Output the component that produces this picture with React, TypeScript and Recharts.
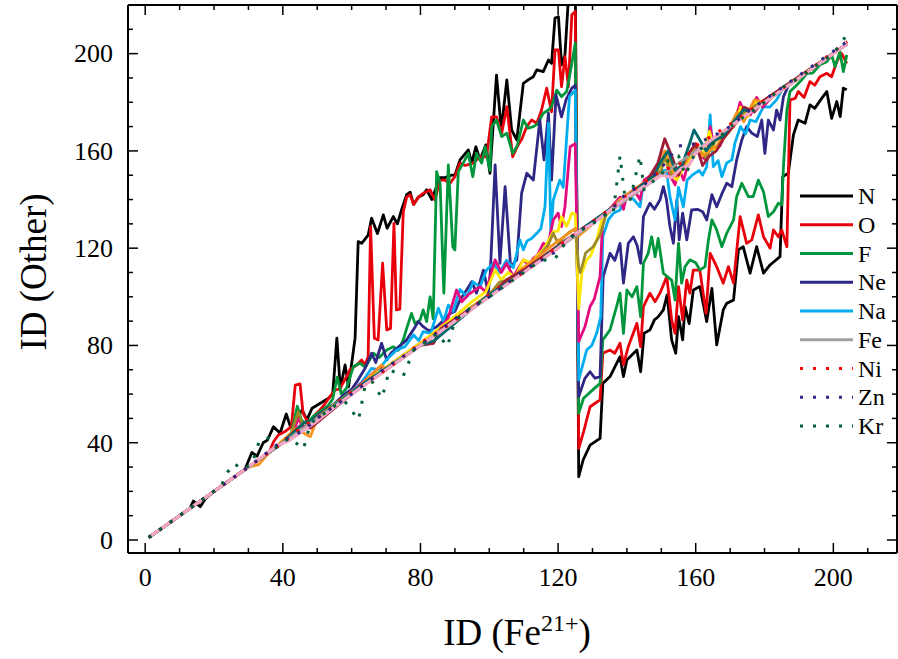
import React from 'react';
import { LineChart, Line, XAxis, YAxis } from 'recharts';

const FONT = '"Liberation Serif", "Times New Roman", Times, serif';

const X_TICKS = [0, 10, 20, 30, 40, 50, 60, 70, 80, 90, 100, 110, 120, 130, 140, 150, 160, 170, 180, 190, 200, 210];
const Y_TICKS = [0, 10, 20, 30, 40, 50, 60, 70, 80, 90, 100, 110, 120, 130, 140, 150, 160, 170, 180, 190, 200, 210];
const X_LABELS = [0, 40, 80, 120, 160, 200];
const Y_LABELS = [0, 40, 80, 120, 160, 200];

// [ID(Fe21+), ID(Other)] vertices
const N_PTS = [[1,1],[5,5],[10,10],[13,13],[14,16],[16,13.7],[17.5,17],[20,20],[25,25],[29,29],[31,36],[32.5,34.5],[34.3,40],[35.5,41],[37.3,46.6],[39.2,43.9],[41,51.8],[42.2,46.6],[44,50],[45.6,53.5],[47,49.4],[48.5,54.2],[50.9,56.2],[53.3,58.3],[54.5,60],[55.7,83],[56.7,62.4],[58.1,72],[59.1,63],[61,83],[61.9,122.7],[62.9,122],[64.8,125.4],[65.8,132.3],[67.5,126],[69.2,133.7],[70.3,128.2],[72.1,133],[73.3,130],[74.5,135.7],[76,142],[77,143],[78,138],[79.4,141],[80.8,142],[81.8,144],[83.3,140],[84.2,143.5],[85.7,149],[87.1,149],[89,150],[90,150],[91.5,156.3],[93.9,160.4],[94.9,155],[96.1,161.7],[97.3,156.3],[99,162.5],[100.2,150.8],[102.1,191.2],[103.5,168.6],[105.1,189.2],[106.5,168.6],[108,164.5],[109.9,187.8],[111.3,189.2],[112.8,190.5],[113.8,193.3],[115.7,192.6],[117.2,197.4],[118.1,196],[119.1,214.6],[120.1,215.2],[121,195.4],[122,199.5],[123.3,230],[125,230],[126,26],[127.3,33],[129.3,39],[132.2,41.8],[133,64.4],[135.1,67.2],[138,75.4],[139,67.2],[140,74],[142.9,78.1],[144,69.2],[145,85],[146.7,86.4],[148,90.5],[149.1,91.8],[150.6,94.6],[151.7,100.8],[153,82.3],[154.2,76.8],[155,91.8],[156.2,82.3],[156.9,96],[158.1,89],[159.3,102.8],[161.2,104.2],[163.2,89.8],[164.7,103.5],[166.1,80.2],[168,94.6],[169,97.3],[171,98.7],[172.4,119.3],[173.8,120.6],[175.8,109.7],[177.7,120.6],[179.7,109.7],[181.6,113.1],[184.5,116.5],[185.3,149.4],[186.9,150.8],[188.4,166.6],[189.8,172.7],[191.8,171.4],[193.2,178.9],[194.6,177.5],[196.6,181.6],[198.1,184.4],[199.5,173.4],[201,180.3],[202,174.1],[202.9,185.8],[203.9,185.1]];

const O_PTS = [[1,1],[10,10],[20,20],[30,30],[36,36],[37.3,40.4],[38.7,43.2],[40.5,44.5],[42.5,46.6],[43.6,63.7],[45,64.2],[45.9,52],[47.5,48],[49,51],[50.5,53],[52,55.5],[53.7,59],[55.2,61.7],[56.5,62],[58.5,67.2],[59.5,70],[61.5,72],[62.9,74],[63.9,72],[64.8,75.4],[65.5,128.9],[66.6,83],[67.7,82.3],[69,113.8],[70.2,86.4],[71.3,87],[72.3,130.2],[73,94.6],[74,94.9],[75,135],[76,141],[77,142],[78,138],[79.4,141],[80.8,142.6],[81.8,143.2],[82.8,144],[84.2,139.8],[85.7,148],[87.1,148],[88.5,146.5],[90,149.4],[91.5,155],[93,154],[95.3,155],[97.3,157.6],[99.2,157.6],[100.7,174],[102.1,174],[103.6,167.3],[105.1,178.2],[106.8,157.6],[108.1,161.7],[109.5,165],[110.9,170],[112.3,172.7],[113.8,171.4],[115.2,176.8],[116.7,185.8],[118.1,176.1],[119.1,201.5],[120.1,201.5],[121,186.4],[122,198.8],[123,186.4],[124,216],[125,217.3],[126,37.7],[127.4,44.5],[129.3,54.8],[132.2,57.6],[133,76.8],[135.1,78.1],[136.5,76.8],[138,80.9],[139,72],[140.4,79.5],[142.9,89.1],[144,79.5],[144.8,96],[146.7,101.5],[148.2,98],[149.6,101.5],[151.6,108.3],[153,90.5],[154,85],[155,104.2],[156.2,90.5],[157.4,106.9],[158.3,101.5],[159.3,111],[161.2,111],[163,93.2],[164.2,117.9],[166.1,112.4],[168,105.6],[169.5,112.4],[171,105.6],[172.9,133],[174.8,122],[176.3,123.4],[178.2,133.7],[179.7,124.7],[181.6,120],[182.6,127.5],[184,124.7],[185,127.5],[186.5,120.6],[187.4,181],[188.9,181.6],[189.8,184.4],[191.5,182],[193.2,188.5],[194.6,187],[196.1,190.5],[198.1,191.9],[199.5,190.5],[201,196.7],[202.4,200.1],[203.9,196]];

const F_PTS = [[1,1],[20,20],[40,40],[42.5,44],[44.2,55],[45.5,49],[47,48],[49,51],[51,53],[53,55],[54.5,58],[55.8,67],[57,60],[58.5,62.4],[60.5,71.3],[62.4,72.7],[64,71],[66.3,76.8],[68,75],[70.2,78.1],[72.1,79.5],[73.5,78],[75,82.3],[76,87],[77.4,93.2],[78.4,89],[79.9,90.5],[80.8,94.6],[81.8,89.8],[82.8,100],[83.7,91],[84.7,151.5],[85.7,146.7],[86.8,101.5],[88.1,154.2],[89.4,120.6],[90,119.3],[91,151.5],[92.4,155],[93.9,159],[95.2,149.4],[96.3,159],[97.8,155],[98.8,161.7],[100.2,152],[100.7,170],[102.1,172.7],[103.6,165.9],[105.1,167.3],[106.8,159],[108.1,162],[109.9,172.7],[111.3,169.3],[112.8,170],[114,171],[115.7,175.5],[117.2,176.8],[118.1,178.2],[119.6,185],[121,182.3],[122.5,184.4],[124,196],[125,204.3],[126,52.1],[127.4,58.3],[129.5,61],[132.2,64.4],[133,82.3],[135.1,86.4],[137,96],[138,101.5],[139,85],[140,102.8],[141.5,100],[142.9,104.2],[144,91.8],[144.8,113.8],[146.2,117.9],[147.2,124.7],[148.2,116.5],[149.1,124],[150.6,109.7],[152,108],[153,106.9],[154,98.7],[155,122],[155.9,105.6],[156.9,112.4],[158.3,115.2],[160,114],[161.2,111],[162.7,112.4],[163.7,123.4],[164.7,131.6],[166.1,127.5],[167.6,120.6],[169,126.1],[171,131.6],[171.9,141.2],[173.4,146.7],[175.3,141.2],[176.7,141.2],[178.2,148],[179.7,143.2],[181.1,133],[182.6,135],[184,138.5],[185,137.8],[185.5,153.5],[186.5,176.8],[187.4,184.4],[189.4,187.1],[190.8,189.2],[192.3,191.9],[194,192],[196.1,195.4],[198.1,196.7],[199.5,199.5],[200.5,194.7],[201.9,200.8],[202.9,192.6],[203.9,199.5]];

const NE_PTS = [[1,1],[30,30],[45,45],[50,51],[55,56],[58,60],[60,62],[61.5,65],[63.9,70.6],[65.8,76.8],[67,73],[68.7,80.9],[70.2,74],[71.5,77],[73.1,78.8],[75,81],[76,82.3],[77.9,86.4],[79.4,89.8],[80.8,87.7],[82.5,86],[84.7,87.7],[86.5,90],[88.6,93.2],[90,94],[91.5,98.7],[93.4,102.8],[94.9,106.2],[96.3,101.5],[98.3,111],[99.7,101.5],[100.3,110],[101.7,154.2],[103.1,113.8],[104.6,145.3],[106.2,112.4],[108,115.2],[109.4,142.6],[110.9,150.8],[112.8,148],[114.7,172.7],[115.9,156.3],[117.2,175.5],[118.1,148],[119.4,183],[121,174],[122.3,181],[124,185.8],[125,187],[126,59],[127.8,66.5],[129.3,69.2],[130.7,66.5],[132.2,67.2],[133.1,108.3],[135.1,117.9],[136.5,115],[138,122],[139,105.6],[140.4,122],[141.9,124.7],[143,121],[144,113.8],[144.8,133],[146.7,138.5],[148,136],[149.6,139.8],[150.6,145.3],[151.5,140],[152.5,128.9],[153.5,122],[154.5,139.8],[155.2,123.4],[156.2,134.4],[157.4,123.4],[158.8,135.7],[160.5,136],[162,135],[163.2,131.6],[164.7,142],[166.1,137],[167.5,142],[169,146.7],[170.5,145.3],[171.9,156.3],[173.4,164.5],[174.8,170],[176.3,167.3],[177.9,165.9],[179.2,172.7],[180.1,159],[181.1,172.7],[182.6,168.6],[183.5,176.8],[184.5,172.7],[185.5,182.3],[187,187],[190,190],[195,195],[200,200],[204,204]];

const NA_PTS = [[1,1],[30,30],[45,45],[50,50],[55,55],[60,61],[63,65],[65.8,70.6],[68,70],[70,74],[73.1,78.1],[75.5,79.5],[78,84.3],[79.5,82],[80.8,85.7],[83,85],[85.2,95.3],[86.7,90],[88.1,96.6],[89.5,94],[91.5,103],[93.5,100],[95.3,106.2],[97.3,104],[99.2,111],[101.2,113.8],[103,110],[105,115],[107,112],[108.9,123.4],[109.9,119.3],[111,123],[112.3,124],[113.8,126.1],[115,128],[116.2,137],[117.2,171.4],[117.9,126],[118.6,139.8],[120.5,148],[121.5,145],[123.3,182.3],[125,185],[126,65.8],[128.3,78.1],[129.8,80],[131.2,85],[132.4,91.8],[133,124.7],[134.6,131.6],[136.1,134.4],[138,135.7],[139,140.5],[140.9,141.2],[142,140],[143.8,137],[144.8,146.7],[146.5,148],[148,148],[150,152],[151.5,152],[152.5,141.2],[154,131.6],[155,145],[156.4,137],[157.5,148],[159,150],[161,152],[162,150],[163.2,153.5],[164.2,174.8],[165.1,153.5],[166.5,156],[167.6,149.4],[169,155],[170.5,156.3],[171.4,163.2],[173,170],[174.5,167],[175.8,172.7],[177.5,172],[179.7,178.2],[181.5,178],[183.5,181],[185,185],[190,190],[200,200],[204,204]];

const MG_PTS = [[1,1],[40,40],[43,44],[44.5,50],[46,46],[48,48],[55,55],[60,61],[65,67],[68,71],[70,71],[75,76],[78,79],[80,81],[83,84],[85,86],[88,91],[90.5,102.8],[92,98],[94,101],[97.3,104.2],[99,102],[101.7,115.2],[103.5,110],[105,113.8],[107,108.3],[109.9,115.2],[111.5,113],[112.8,115.9],[114,117],[115.7,122],[117,121],[118.6,131.6],[120,134.4],[121,128.9],[122,137],[123.5,161.7],[125,163],[126,81.6],[127.8,87.7],[129.3,96],[130.5,99],[132.2,108.3],[133,133],[135,136],[138,141],[139,136],[140,142],[142,144],[143.8,140],[145,148],[148,151],[151,158],[152.5,150],[154,146],[155,153],[156.5,148],[158,156],[160,162],[161.5,158],[163.2,156],[164.2,170],[165.5,160],[167,162],[169,168],[171,170],[172.9,180],[174.5,174],[176,175],[177.7,182],[179.5,178],[182,182],[185,185],[190,190],[200,200],[204,204]];

const AL_PTS = [[1,1],[45,45],[60,61],[80,81],[90,92],[95,98],[99,102],[101.7,111],[103.5,107],[105.5,110],[107.5,108],[109.9,115.2],[112,114],[114,117],[116,120],[118.6,126.8],[120,127],[121,133],[122.5,129],[124,134.4],[125,134],[126,95],[126.9,109.7],[128.3,115.2],[129.5,117],[131.2,123.4],[132.7,131.6],[135,135],[138,140],[140,141],[145,146],[148,150],[151,157],[153,150],[154.5,148],[156,152],[158,156],[160,160],[162,158],[164,168],[165.5,160],[168,165],[172,172],[173,178],[175,174],[177.5,180],[180,180],[190,190],[200,200],[204,204]];

const SI_PTS = [[1,1],[42,42],[44.5,52.8],[46,46],[48,47],[60,60],[80,80],[95,96],[100,101],[103,106],[106,107],[110,112],[114,116],[117,121],[118.6,126.1],[120,122],[122,125],[123.5,126.8],[125,128],[126,112],[126.5,110],[128,118],[130.2,120.6],[132.2,125.4],[134,134],[140,141],[145,146],[150,152],[151,158],[153,150],[155,152],[160,162],[163,157],[165,163],[170,170],[173,175],[180,181],[204,204]];

const OR_PTS = [[1,1],[30,30],[33,31],[36,36],[44,46],[46,44],[48,42.5],[50,50],[60,60],[68.7,72],[70,70],[100,101],[110,112],[120,123],[125,128],[126,125],[140,142],[148,150],[151,160],[154,150],[157,155],[160,163],[162,158],[166,162],[170,170],[172,176],[174,172],[177,181],[180,180],[204,204]];

const MR_PTS = [[1,1],[40,40],[45,47],[48,46],[60,60],[70,70],[80,80],[83.8,80.9],[86,87],[100,100],[105,107],[110,111],[120,121],[125,126],[140,141],[146,148],[149,155],[151,165],[153,158],[155,150],[157,157],[160,163],[162,154],[164,158],[166,160],[168,165],[172,172],[174,178],[177,176],[180,181],[204,204]];

const TL_PTS = [[1,1],[40,40],[46,48],[50,50],[62,63],[80,80],[84,82],[100,101],[110,110],[125,126],[140,141],[148,150],[150,156],[152,160],[154,152],[156,154],[158,162],[159.5,168.6],[161,165],[163,160],[165,164],[168,166],[171,172],[174,177],[176,176],[204,204]];

const FE_PTS = [[1,1],[50,50],[100,100],[150,150],[204,204]];

const PK_PTS = [[1,1],[20,20],[30,30],[38,38.5],[42,41],[46,45],[50,49],[60,60],[70,70],[80,80],[90,90],[100,100],[110,110],[120,120],[125,126],[130,130],[140,141],[150,150],[153,149],[156,153],[158,154],[160,159],[164,164],[170,170],[180,180],[190,190],[200,200],[204,204]];

const NI_PTS = [[1,1],[30,30],[40,40],[46,47],[50,50],[60,61],[70,70],[80,81],[90,90],[100,101],[110,110],[120,121],[125,126],[135,136],[140,142],[150,152],[155,154],[160,162],[170,171],[180,181],[190,190],[204,205]];

const ZN_PTS = [[1,1],[30,30],[40,41],[46,45],[50,50],[60,60],[70,71],[80,80],[90,91],[100,100],[110,111],[120,119],[125,126],[135,135],[140,143],[145,146],[150,153],[155,162],[160,163],[165,166],[170,170],[175,176],[180,181],[190,191],[204,205]];

const KR_PTS = [[1,1],[20,20],[22,22],[23.9,27.8],[25.9,31.5],[28,29],[31,31],[33.2,41],[35.9,42],[38,38],[42,42],[46,37.4],[48,48],[52,52],[55,55],[58,57],[62,49.4],[64,64],[66,65],[68.8,58.3],[71,70],[75,67.4],[78,78],[82,82],[85,85],[87.8,79.5],[90,90],[95,96],[100,100],[110,110],[115,115],[119,115.4],[122,122],[125,126],[130,130],[134,134],[136,134],[138,158],[139.5,140],[141,140],[143.8,158],[145,144],[148,148],[150,150],[152,156],[155,158],[157,150],[160,160],[165,163],[170,170],[175,175],[180,180],[185,186],[190,190],[195,195],[200,200],[203.7,207.3]];

type S = { name: string; pts: number[][]; color: string; width: number; dash?: string; legend: boolean };

const SERIES: S[] = [
  { name: 'N', pts: N_PTS, color: '#000000', width: 2.8, legend: true },
  { name: 'O', pts: O_PTS, color: '#E8000B', width: 2.8, legend: true },
  { name: 'F', pts: F_PTS, color: '#00963C', width: 2.8, legend: true },
  { name: 'Ne', pts: NE_PTS, color: '#2E2785', width: 2.8, legend: true },
  { name: 'Na', pts: NA_PTS, color: '#00AEEF', width: 2.8, legend: true },
  { name: 'Mg', pts: MG_PTS, color: '#E5097F', width: 2.8, legend: false },
  { name: 'Al', pts: AL_PTS, color: '#FFE800', width: 2.8, legend: false },
  { name: 'Si', pts: SI_PTS, color: '#9C8A2A', width: 2.8, legend: false },
  { name: 'P', pts: OR_PTS, color: '#F7941D', width: 2.8, legend: false },
  { name: 'S', pts: MR_PTS, color: '#9E1C34', width: 2.8, legend: false },
  { name: 'Cl', pts: TL_PTS, color: '#00676B', width: 2.8, legend: false },
  { name: 'Fe', pts: FE_PTS, color: '#A0A0A0', width: 2.8, legend: true },
  { name: 'Ar', pts: PK_PTS, color: '#F4A6C6', width: 3.2, legend: false },
  { name: 'Ni', pts: NI_PTS, color: '#FF0000', width: 3, dash: '3 10', legend: true },
  { name: 'Zn', pts: ZN_PTS, color: '#2E2785', width: 3, dash: '3 10', legend: true },
  { name: 'Kr', pts: KR_PTS, color: '#00613A', width: 3, dash: '3 10', legend: true },
];

const toData = (pts: number[][]) => pts.map(([x, y]) => ({ x, y }));

const BottomTick = (p: any) => {
  const v = p.payload.value;
  const major = X_LABELS.includes(v);
  return (
    <g>
      <line x1={p.x} x2={p.x} y1={553} y2={553 - (major ? 10 : 5)} stroke="#000" strokeWidth={1.5} />
      {major && (
        <text x={p.x} y={553 + 33} textAnchor="middle" fontFamily={FONT} fontSize={26} fill="#000">{v}</text>
      )}
    </g>
  );
};

const TopTick = (p: any) => {
  const v = p.payload.value;
  const major = X_LABELS.includes(v);
  return <line x1={p.x} x2={p.x} y1={5} y2={5 + (major ? 10 : 5)} stroke="#000" strokeWidth={1.5} />;
};

const LeftTick = (p: any) => {
  const v = p.payload.value;
  const major = Y_LABELS.includes(v);
  return (
    <g>
      <line x1={128} x2={128 + (major ? 10 : 5)} y1={p.y} y2={p.y} stroke="#000" strokeWidth={1.5} />
      {major && (
        <text x={113} y={p.y} dy="0.34em" textAnchor="end" fontFamily={FONT} fontSize={26} fill="#000">{v}</text>
      )}
    </g>
  );
};

const RightTick = (p: any) => {
  const v = p.payload.value;
  const major = Y_LABELS.includes(v);
  return <line x1={897} x2={897 - (major ? 10 : 5)} y1={p.y} y2={p.y} stroke="#000" strokeWidth={1.5} />;
};

const X_DOMAIN = [-5, 218.5];
const Y_DOMAIN = [-5.35, 220];
const AXIS_LINE = { stroke: '#000', strokeWidth: 2 };

export default function App() {
  const legendItems = SERIES.filter((s) => s.legend);
  return (
    <div style={{ position: 'absolute', left: 0, top: 0, width: 898, height: 659, background: '#fff' }}>
      <LineChart width={898} height={659} margin={{ top: 4, right: 0, bottom: 105, left: 127 }}>
        <XAxis xAxisId="b" dataKey="x" type="number" domain={X_DOMAIN} ticks={X_TICKS} interval={0}
          tick={(p: any) => <BottomTick {...p} />} tickLine={false} tickSize={0} tickMargin={0} height={1}
          axisLine={AXIS_LINE} allowDataOverflow />
        <XAxis xAxisId="t" orientation="top" dataKey="x" type="number" domain={X_DOMAIN} ticks={X_TICKS} interval={0}
          tick={(p: any) => <TopTick {...p} />} tickLine={false} tickSize={0} tickMargin={0} height={1}
          axisLine={AXIS_LINE} allowDataOverflow />
        <YAxis yAxisId="l" type="number" domain={Y_DOMAIN} ticks={Y_TICKS} interval={0}
          tick={(p: any) => <LeftTick {...p} />} tickLine={false} tickSize={0} tickMargin={0} width={1}
          axisLine={AXIS_LINE} allowDataOverflow />
        <YAxis yAxisId="r" orientation="right" type="number" domain={Y_DOMAIN} ticks={Y_TICKS} interval={0}
          tick={(p: any) => <RightTick {...p} />} tickLine={false} tickSize={0} tickMargin={0} width={1}
          axisLine={AXIS_LINE} allowDataOverflow />
        {SERIES.map((s) => (
          <Line key={s.name} xAxisId="b" yAxisId="l" data={toData(s.pts)} dataKey="y" name={s.name}
            type="linear" stroke={s.color} strokeWidth={s.width} strokeDasharray={s.dash}
            dot={false} activeDot={false} isAnimationActive={false} strokeLinejoin="round" />
        ))}
      </LineChart>
      <svg width={898} height={659} style={{ position: 'absolute', left: 0, top: 0, pointerEvents: 'none' }}>
        <text x={517} y={645} textAnchor="middle" fontFamily={FONT} fontSize={37} fill="#000">
          ID (Fe<tspan dy={-14} fontSize={24}>21+</tspan><tspan dy={14}>)</tspan>
        </text>
        <text x={46} y={272} transform="rotate(-90 46 272)" textAnchor="middle" fontFamily={FONT} fontSize={37} fill="#000">
          ID (Other)
        </text>
        {legendItems.map((s, i) => {
          const y = 196 + i * 28.75;
          return (
            <g key={s.name}>
              <line x1={800} x2={853} y1={y} y2={y} stroke={s.color} strokeWidth={3} strokeDasharray={s.dash} />
              <text x={858} y={y} dy="0.34em" fontFamily={FONT} fontSize={24} fill="#000">{s.name}</text>
            </g>
          );
        })}
      </svg>
    </div>
  );
}
